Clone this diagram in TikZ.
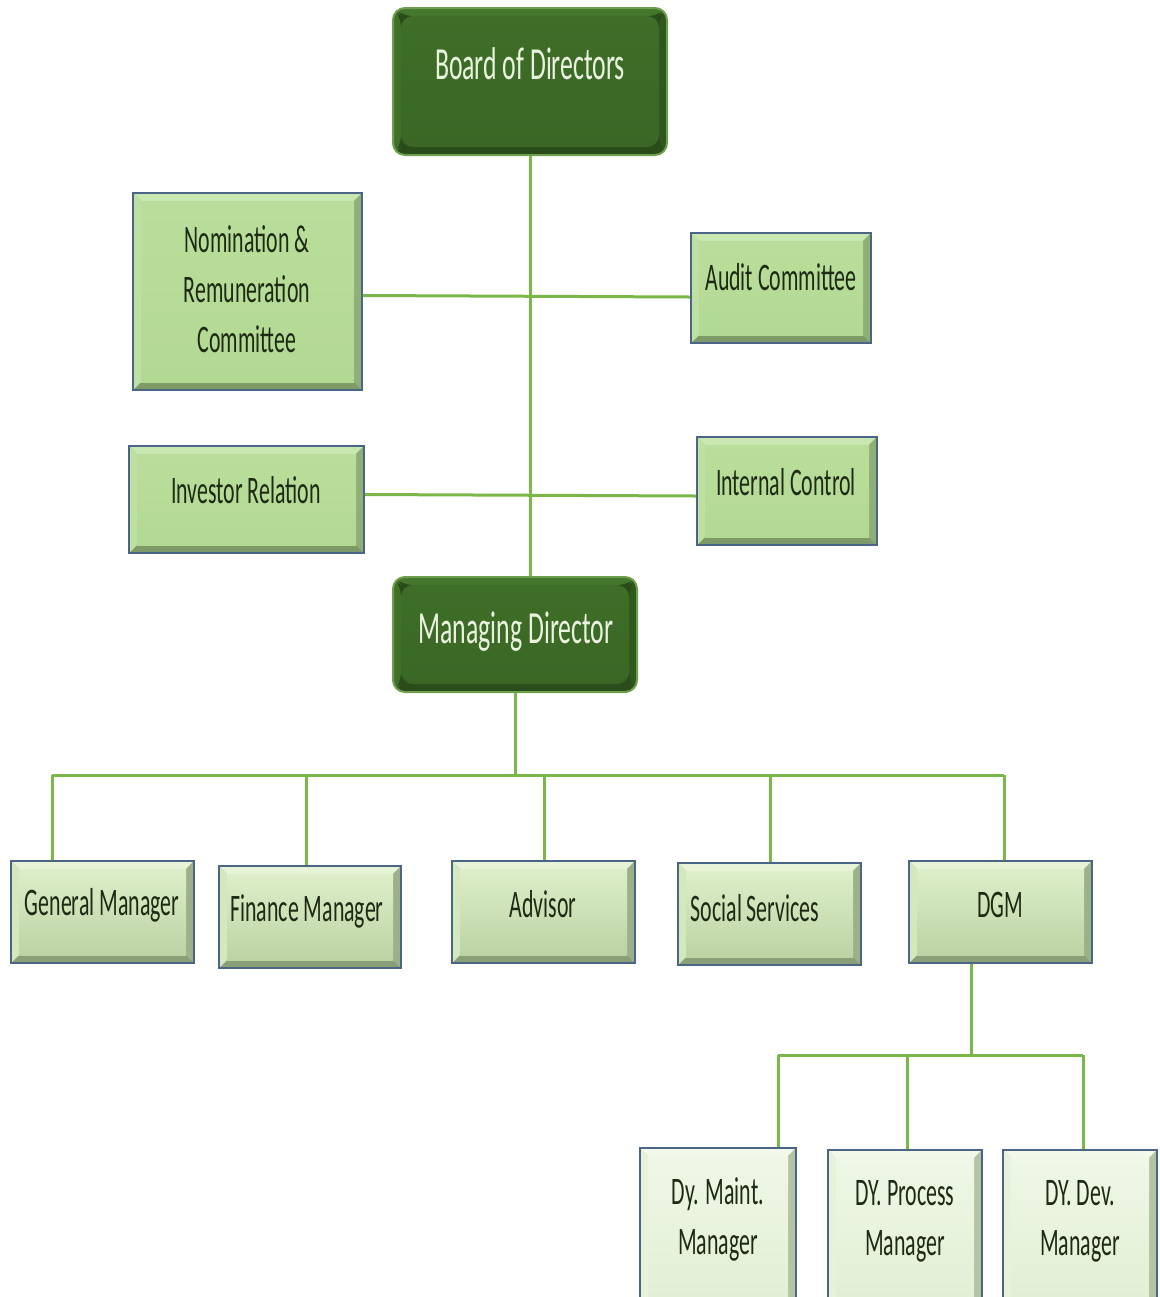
\documentclass[tikz,border=0pt]{standalone}
\usepackage{fontspec}
\newfontfamily\orgfont[FakeStretch=0.56]{Carlito}
\definecolor{conn}{HTML}{7AB648}
\definecolor{lborder}{HTML}{4A6585}
\definecolor{dborder}{HTML}{6E9E4E}
% dark boxes
\definecolor{dT}{HTML}{45762E}\definecolor{dL}{HTML}{40712A}\definecolor{dR}{HTML}{30581E}\definecolor{dB}{HTML}{2A4C1A}
\definecolor{dI1}{HTML}{3E6E28}\definecolor{dI2}{HTML}{3A6725}
% committee boxes
\definecolor{cT}{HTML}{C9E7B1}\definecolor{cL}{HTML}{BEE1A3}\definecolor{cR}{HTML}{8FAE78}\definecolor{cB}{HTML}{7E9A68}
\definecolor{cI1}{HTML}{B9DE9B}\definecolor{cI2}{HTML}{B2D993}
% row boxes
\definecolor{rT}{HTML}{E6F3D7}\definecolor{rL}{HTML}{D3E8BC}\definecolor{rR}{HTML}{9CB08A}\definecolor{rB}{HTML}{8A9E78}
\definecolor{rI1}{HTML}{DCEFC8}\definecolor{rI2}{HTML}{BCD3A4}
% low boxes
\definecolor{wT}{HTML}{F2F9EA}\definecolor{wL}{HTML}{E7F2DA}\definecolor{wR}{HTML}{B3C4A2}\definecolor{wB}{HTML}{A3B592}
\definecolor{wI1}{HTML}{EFF7E6}\definecolor{wI2}{HTML}{E1EED3}
\definecolor{ltxt}{HTML}{1E2A14}
\definecolor{dtxt}{HTML}{EAF3E0}
\newcommand\mybevelpic[7]{% top, left, right, bottom, inner top, inner bottom, bevel
  \fill[#4] (path picture bounding box.south west) rectangle (path picture bounding box.north east);
  \fill[#1] (path picture bounding box.north west) -- (path picture bounding box.north east)
    -- ([shift={(-#7,-#7)}]path picture bounding box.north east) -- ([shift={(#7,-#7)}]path picture bounding box.north west) -- cycle;
  \fill[#2] (path picture bounding box.north west) -- ([shift={(#7,-#7)}]path picture bounding box.north west)
    -- ([shift={(#7,#7)}]path picture bounding box.south west) -- (path picture bounding box.south west) -- cycle;
  \fill[#3] (path picture bounding box.north east) -- ([shift={(-#7,-#7)}]path picture bounding box.north east)
    -- ([shift={(-#7,#7)}]path picture bounding box.south east) -- (path picture bounding box.south east) -- cycle;
  \shade[top color=#5, bottom color=#6] ([shift={(#7,-#7)}]path picture bounding box.north west) rectangle ([shift={(-#7,#7)}]path picture bounding box.south east);
}
\tikzset{
  darkbox/.style={inner sep=0pt, rounded corners=6pt, draw=dborder, line width=1pt,
    path picture={\mybevelpic{dT}{dL}{dR}{dB}{dI1}{dI2}{4pt}}},
  combox/.style={inner sep=0pt, draw=lborder, line width=0.9pt,
    path picture={\mybevelpic{cT}{cL}{cR}{cB}{cI1}{cI2}{4pt}}},
  rowbox/.style={inner sep=0pt, draw=lborder, line width=0.9pt,
    path picture={\mybevelpic{rT}{rL}{rR}{rB}{rI1}{rI2}{4pt}}},
  lowbox/.style={inner sep=0pt, draw=lborder, line width=0.9pt,
    path picture={\mybevelpic{wT}{wL}{wR}{wB}{wI1}{wI2}{4pt}}},
  dtext/.style={font=\orgfont\fontsize{23}{28}\selectfont, text=dtxt, inner sep=0pt},
  ltext/.style={font=\orgfont\fontsize{19.5}{25}\selectfont, text=ltxt, inner sep=0pt, align=center},
  wire/.style={draw=conn, line width=1.5pt}
}
\begin{document}
\begin{tikzpicture}[x=0.5pt,y=-0.5pt]
\clip (0,0) rectangle (1160,1297);
\fill[white] (0,0) rectangle (1160,1297);

\coordinate (busA) at (515,775);
\coordinate (busL) at (52,775);
\coordinate (busR) at (1004,775);
\coordinate (busB) at (971,1055);
\coordinate (busBL) at (778,1055);
\coordinate (busBR) at (1083,1055);

% boxes
\node[darkbox, minimum width=137pt, minimum height=73.5pt] (bod) at (530,81.5) {};
\node[combox, minimum width=114.5pt, minimum height=98.5pt] (nom) at (247.5,291.5) {};
\node[combox, minimum width=90pt, minimum height=55pt] (aud) at (781,288) {};
\node[combox, minimum width=117.5pt, minimum height=53.5pt] (inv) at (246.5,499.5) {};
\node[combox, minimum width=90pt, minimum height=54pt] (ict) at (787,491) {};
\node[darkbox, minimum width=122pt, minimum height=57.5pt] (md) at (515,634.5) {};
\node[rowbox, minimum width=91.5pt, minimum height=51pt] (gm) at (102.5,912) {};
\node[rowbox, minimum width=91pt, minimum height=51pt] (fm) at (310,917) {};
\node[rowbox, minimum width=91.5pt, minimum height=51pt] (adv) at (543.5,912) {};
\node[rowbox, minimum width=91.5pt, minimum height=51pt] (soc) at (769.5,914) {};
\node[rowbox, minimum width=91.5pt, minimum height=51pt] (dgm) at (1000.5,912) {};
\node[lowbox, minimum width=78pt, minimum height=86pt] (dym) at (718,1234) {};
\node[lowbox, minimum width=77pt, minimum height=85pt] (dyp) at (905,1235) {};
\node[lowbox, minimum width=77pt, minimum height=85pt] (dyd) at (1080,1235) {};

% connectors
\draw[wire] (bod.south) -- (bod.south |- md.north);
\draw[wire] ([yshift=-2pt]nom.east) -- ([yshift=-4.5pt]aud.west);
\draw[wire] ([yshift=2.5pt]inv.east) -- ([yshift=-2.5pt]ict.west);
\draw[wire] (md.south -| busA) -- (busA);
\draw[wire] (busL) -- (busR);
\draw[wire] (busL) -- (busL |- gm.north);
\draw[wire] (busL -| 306,0) -- (fm.north -| 306,0);
\draw[wire] (busL -| 544,0) -- (adv.north -| 544,0);
\draw[wire] (busL -| 770,0) -- (soc.north -| 770,0);
\draw[wire] (busR) -- (busR |- dgm.north);
\draw[wire] (busB |- dgm.south) -- (busB);
\draw[wire] (busBL) -- (busBR);
\draw[wire] (busBL) -- (busBL |- dym.north);
\draw[wire] (busBL -| 907,0) -- (dyp.north -| 907,0);
\draw[wire] (busBR) -- (busBR |- dyd.north);

% texts
\node[dtext] (bodT) at (530,64) {Board of Directors};
\node[ltext] (nomT) at (247,289) {Nomination \&\\Remuneration\\Committee};
\node[ltext] (audT) at (781,277) {Audit Committee};
\node[ltext] (invT) at (246,490) {Investor Relation};
\node[ltext] (ictT) at (786,482) {Internal Control};
\node[dtext] (mdT) at (516,632) {Managing Director};
\node[ltext] (gmT) at (102,905) {General Manager};
\node[ltext] (fmT) at (307,911) {Finance Manager};
\node[ltext] (advT) at (543,904) {Advisor};
\node[ltext] (socT) at (755,908) {Social Services};
\node[ltext] (dgmT) at (1000,905) {DGM};
\node[ltext] (dymT) at (718,1219) {Dy. Maint.\\Manager};
\node[ltext] (dypT) at (905,1221) {DY. Process\\Manager};
\node[ltext] (dydT) at (1080,1221) {DY. Dev.\\Manager};
\end{tikzpicture}
\end{document}
